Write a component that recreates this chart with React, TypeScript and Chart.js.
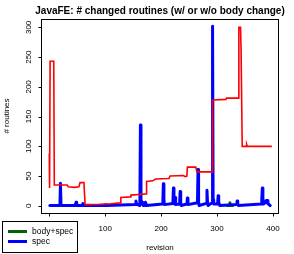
import React, { useEffect, useRef } from "react";
import { Chart, registerables } from "chart.js";

Chart.register(...registerables);

const chartTitle = "JavaFE: # changed routines (w/ or w/o body change)";
const xAxisTitle = "revision";
const yAxisTitle = "# routines";
const xTicks = [0, 100, 200, 300, 400];
const yTicks = [0, 50, 100, 150, 200, 250, 300];
const legendLabels = ["body+spec", "spec"];

// red series: total changed routines (revision, count)
const redRev = [0, 0.5, 1.5, 8, 9, 32, 34, 45, 53, 55, 62, 64, 90, 110, 127, 128, 145, 146, 160, 173, 174, 185, 190, 214, 216, 240, 243, 246, 247, 262, 264, 291, 292, 316, 317, 338, 339, 342, 343, 345, 352, 353, 354, 398];
const redVal = [88, 30, 243, 243, 35, 35, 32, 31, 32, 39, 39, 2, 2.5, 3.5, 5, 14, 15, 18, 19, 20, 41, 42, 45, 46, 50, 51, 49, 50, 65, 65, 57, 57, 178, 179, 181, 181, 300, 300, 262, 100, 100, 103, 100, 100];

// blue series: spec
const blueRev = [1, 19, 20, 21, 46, 47, 48, 49, 59, 60, 61, 100, 101, 102, 154, 155, 156, 162, 163, 164, 165, 166, 167, 168, 171, 172, 173, 174, 203, 204, 205, 206, 221, 222, 223, 224, 225, 226, 233, 234, 235, 236, 246, 247, 248, 265, 266, 267, 268, 281, 282, 283, 284, 291, 292, 293, 294, 301, 302, 303, 304, 305, 335, 336, 337, 338, 379, 380, 381, 382, 383, 386, 388, 389, 390, 391, 393, 395];
const blueVal = [0.5, 0.5, 38, 0.5, 0.5, 3, 6, 0.5, 0.5, 4, 0.5, 0.5, 2, 0.5, 2, 8, 3, 0.5, 136, 5, 8, 3, 6, 0.5, 0.5, 6, 2, 0.5, 3, 37, 10, 2, 4, 30, 8, 3, 14, 2, 3, 24, 5, 0.5, 3, 13, 2, 5, 61, 6, 0.5, 4, 26, 5, 0.5, 5, 302, 10, 3, 3, 17, 6, 2, 0.5, 2, 8, 2, 0.5, 3, 10, 30, 12, 3, 5, 9, 5, 9, 4, 2, 0.5];

// green series: body+spec (only non-hidden part around its spike)
const greenRev = [318, 322, 323, 324, 328];
const greenVal = [0.5, 0.5, 5, 0.5, 0.5];

const FONT = "'Liberation Sans', Arial, Helvetica, sans-serif";

const toPts = (xs: number[], ys: number[]) => xs.map((x, i) => ({ x, y: ys[i] }));

const rPlot = {
  id: "rplot",
  afterDraw(chart: any) {
    const { ctx, chartArea: a, scales } = chart;
    const xs = scales.x;
    const ys = scales.y;
    ctx.save();
    ctx.strokeStyle = "#000";
    ctx.fillStyle = "#000";
    ctx.lineWidth = 1;
    const L = Math.round(a.left) + 0.5;
    const T = Math.round(a.top) + 0.5;
    const R = Math.round(a.right) - 0.5;
    const B = Math.round(a.bottom) + 0.5;
    ctx.strokeRect(L, T, R - L, B - T);

    // x axis
    ctx.beginPath();
    xTicks.forEach((v) => {
      const p = Math.round(xs.getPixelForValue(v)) + 0.5;
      ctx.moveTo(p, B);
      ctx.lineTo(p, B + 3);
    });
    ctx.stroke();
    ctx.font = `8px ${FONT}`;
    ctx.textAlign = "center";
    ctx.textBaseline = "middle";
    xTicks.forEach((v) => {
      ctx.fillText(String(v), xs.getPixelForValue(v), 228.5);
    });

    // y axis
    ctx.beginPath();
    yTicks.forEach((v) => {
      const p = Math.round(ys.getPixelForValue(v)) + 0.5;
      ctx.moveTo(L, p);
      ctx.lineTo(L - 3, p);
    });
    ctx.stroke();
    yTicks.forEach((v) => {
      ctx.save();
      ctx.translate(28.5, ys.getPixelForValue(v));
      ctx.rotate(-Math.PI / 2);
      ctx.fillText(String(v), 0, 0);
      ctx.restore();
    });

    // axis titles
    const cx = (a.left + a.right) / 2;
    const cy = (a.top + a.bottom) / 2;
    ctx.fillText(xAxisTitle, cx, 248);
    ctx.save();
    ctx.translate(6.5, cy);
    ctx.rotate(-Math.PI / 2);
    ctx.fillText(yAxisTitle, 0, 0);
    ctx.restore();

    // title
    ctx.font = `bold 10px ${FONT}`;
    ctx.fillText(chartTitle, cx, 11.5);

    // legend
    ctx.fillStyle = "#fff";
    ctx.fillRect(2.5, 221.5, 75, 31);
    ctx.strokeStyle = "#000";
    ctx.lineWidth = 1;
    ctx.strokeRect(2.5, 221.5, 75, 31);
    const colors = ["#006400", "#0000FF"];
    const rows = [231.5, 241.5];
    ctx.lineWidth = 3;
    ctx.lineCap = "butt";
    legendLabels.forEach((lab, i) => {
      ctx.strokeStyle = colors[i];
      ctx.beginPath();
      ctx.moveTo(8, rows[i]);
      ctx.lineTo(27, rows[i]);
      ctx.stroke();
      ctx.fillStyle = "#000";
      ctx.font = `8.5px ${FONT}`;
      ctx.textAlign = "left";
      ctx.fillText(lab, 32, rows[i]);
    });
    ctx.restore();
  },
};

export default function App() {
  const ref = useRef<HTMLCanvasElement | null>(null);
  useEffect(() => {
    document.body.style.margin = "0";
    const canvas = ref.current;
    if (!canvas) return;
    const chart = new Chart(canvas, {
      type: "line",
      data: {
        datasets: [
          {
            label: "total",
            data: toPts(redRev, redVal),
            borderColor: "#FF0000",
            borderWidth: 1.6,
            pointRadius: 0,
            fill: false,
            order: 0,
          },
          {
            label: legendLabels[1],
            data: toPts(blueRev, blueVal),
            borderColor: "#0000FF",
            borderWidth: 3,
            borderJoinStyle: "round",
            borderCapStyle: "round",
            pointRadius: 0,
            fill: false,
            order: 1,
          },
          {
            label: legendLabels[0],
            data: toPts(greenRev, greenVal),
            borderColor: "#006400",
            borderWidth: 3,
            borderJoinStyle: "round",
            borderCapStyle: "round",
            pointRadius: 0,
            fill: false,
            order: 2,
          },
        ],
      },
      options: {
        animation: false,
        responsive: false,
        devicePixelRatio: 1,
        layout: { padding: { left: 41, right: 15, top: 19, bottom: 41 } },
        scales: {
          x: { type: "linear", min: -14.8, max: 410.8, display: false },
          y: { type: "linear", min: -12.1, max: 314.1, display: false },
        },
        plugins: {
          legend: { display: false },
          tooltip: { enabled: false },
        },
        elements: { line: { tension: 0 } },
      },
      plugins: [rPlot],
    });
    return () => chart.destroy();
  }, []);
  return (
    <div style={{ width: 294, height: 254 }}>
      <canvas ref={ref} width={294} height={254} style={{ display: "block" }} />
    </div>
  );
}
